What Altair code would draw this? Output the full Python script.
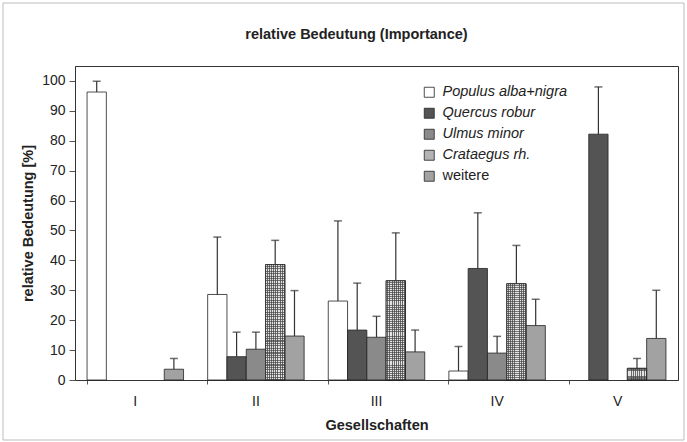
import altair as alt
import pandas as pd

groups = ["I", "II", "III", "IV", "V"]
series = ["Populus alba+nigra", "Quercus robur", "Ulmus minor", "Crataegus rh.", "weitere"]
colors = ["#ffffff", "#545454", "#8a8a8a", "#b4b4b4", "#a2a2a2"]

means = {
    "Populus alba+nigra": [96.3, 28.6, 26.4, 3.0, None],
    "Quercus robur": [None, 7.8, 16.7, 37.3, 82.2],
    "Ulmus minor": [None, 10.3, 14.3, 9.0, None],
    "Crataegus rh.": [None, 38.6, 33.2, 32.2, 3.9],
    "weitere": [3.6, 14.7, 9.4, 18.2, 13.9],
}
uppers = {
    "Populus alba+nigra": [99.9, 47.8, 53.2, 11.2, None],
    "Quercus robur": [None, 16.0, 32.4, 55.9, 98.0],
    "Ulmus minor": [None, 16.0, 21.3, 14.6, None],
    "Crataegus rh.": [None, 46.7, 49.2, 45.0, 7.2],
    "weitere": [7.2, 29.9, 16.7, 27.0, 30.0],
}

rows = []
for s in series:
    for g, m, u in zip(groups, means[s], uppers[s]):
        if m is None:
            continue
        rows.append({"Gruppe": g, "Art": s, "Wert": m, "Oben": u})
df = pd.DataFrame(rows)

FONT = "Liberation Sans"

x_scale = alt.Scale(domain=groups, paddingInner=0.2, paddingOuter=0.1)
x_axis = alt.Axis(title="Gesellschaften", labelAngle=0, bandPosition=0,
                  labelFontSize=14, labelPadding=10, tickSize=4,
                  domainColor="#333", tickColor="#555",
                  titleFontSize=14.5, titleFontWeight="bold",
                  titleY=45, titleBaseline="middle", labelColor="#222",
                  titleColor="#222")
y_axis = alt.Axis(title="relative Bedeutung [%]", values=list(range(0, 101, 10)),
                  grid=False, tickSize=6, labelFontSize=14, labelPadding=4,
                  domainColor="#333", tickColor="#555", labelColor="#222",
                  labelOverlap=False,
                  titleFontSize=14.5, titleFontWeight="bold", titleColor="#222",
                  titleX=-47, titleY=157, titleAlign="center",
                  titleBaseline="middle", titleAngle=-90)
x_enc = alt.X("Gruppe:N", sort=groups, scale=x_scale, axis=x_axis)
xo_enc = alt.XOffset("Art:N", sort=series, scale=alt.Scale(domain=series, paddingInner=0, paddingOuter=0))
y_scale = alt.Scale(domain=[0, 105], nice=False)
y_enc = alt.Y("Wert:Q", scale=y_scale, axis=y_axis)

base = alt.Chart(df)

bars = base.mark_bar(stroke="#222", strokeWidth=0.8).encode(
    x=x_enc,
    xOffset=xo_enc,
    y=y_enc,
    fill=alt.Fill("Art:N", sort=series, scale=alt.Scale(domain=series, range=colors),
                  legend=alt.Legend(title=None, orient="none", legendX=347, legendY=19,
                                    symbolType="square", symbolSize=100,
                                    symbolStrokeColor="#222", symbolStrokeWidth=0.8,
                                    labelFontSize=14.5, labelOffset=6, rowPadding=6,
                                    labelColor="#222",
                                    labelFontStyle={"expr": "datum.label == 'weitere' ? 'normal' : 'italic'"})),
)

# checkered texture for Crataegus bars
vstops = []
n = 9
for i in range(n):
    vstops += [{"offset": i / n, "color": "#e4e4e4"}, {"offset": (i + 0.55) / n, "color": "#e4e4e4"},
               {"offset": (i + 0.55) / n, "color": "#6a6a6a"}, {"offset": (i + 1) / n, "color": "#6a6a6a"}]
hstops = []
m = 48
for i in range(m):
    hstops += [{"offset": i / m, "color": "rgba(0,0,0,0)"}, {"offset": (i + 0.55) / m, "color": "rgba(0,0,0,0)"},
               {"offset": (i + 0.55) / m, "color": "rgba(70,70,70,0.7)"}, {"offset": (i + 1) / m, "color": "rgba(70,70,70,0.7)"}]

crat = base.transform_filter(alt.datum.Art == "Crataegus rh.")
tex1 = crat.mark_bar(color={"gradient": "linear", "x1": 0, "x2": 1, "y1": 0, "y2": 0, "stops": vstops}).encode(
    x=x_enc, xOffset=xo_enc, y=y_enc)
tex2 = crat.mark_bar(color={"gradient": "linear", "x1": 0, "x2": 0, "y1": 0, "y2": 1, "stops": hstops},
                     stroke="#222", strokeWidth=0.8).encode(
    x=x_enc, xOffset=xo_enc, y=y_enc)

err = base.mark_rule(color="#333", strokeWidth=1.2).encode(
    x=x_enc, xOffset=xo_enc, y=y_enc, y2="Oben:Q")
cap = base.mark_tick(color="#333", thickness=1.5, size=8, orient="horizontal").encode(
    x=x_enc, xOffset=xo_enc, y=alt.Y("Oben:Q", scale=y_scale, axis=y_axis))

frame = alt.Chart(pd.DataFrame({"a": [0]})).mark_rect(fill=None, stroke="#bdbdbd", strokeWidth=1).encode(
    x=alt.value(-72), x2=alt.value(609), y=alt.value(-63), y2=alt.value(374))

chart = alt.layer(frame, bars, tex1, tex2, err, cap).properties(
    width=603, height=314,
    title=alt.TitleParams("relative Bedeutung (Importance)", fontSize=14.5, fontWeight="bold",
                          font=FONT, color="#222", offset=-40, dx=-20, anchor="middle"),
    autosize=alt.AutoSizeParams(type="none"),
    padding={"left": 75, "top": 66, "right": 9, "bottom": 62},
).configure(font=FONT).configure_view(stroke="#333", strokeWidth=1).configure_axis(
    labelFont=FONT, titleFont=FONT).configure_legend(labelFont=FONT)

chart.save("out.html", embed_options={"renderer": "svg", "actions": False})
